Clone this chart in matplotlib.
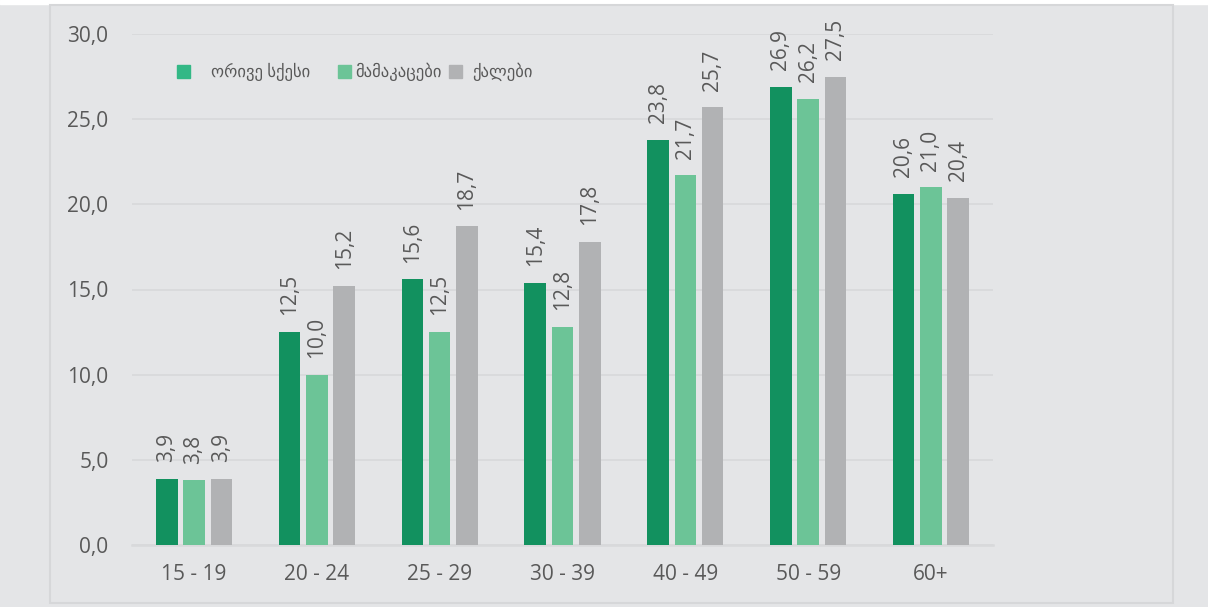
import numpy as np
import matplotlib.pyplot as plt
from matplotlib.patches import Rectangle

# Data
categories = ['15 - 19', '20 - 24', '25 - 29', '30 - 39', '40 - 49', '50 - 59', '60+']
both_sexes = [3.9, 12.5, 15.6, 15.4, 23.8, 26.9, 20.6]
men = [3.8, 10.0, 12.5, 12.8, 21.7, 26.2, 21.0]
women = [3.9, 15.2, 18.7, 17.8, 25.7, 27.5, 20.4]
series_names = ['ორივე სქესი', 'მამაკაცები', 'ქალები']

bg = '#e4e5e7'
colors = ['#12915f', '#6cc497', '#b1b2b4']
legend_colors = ['#33b886', '#6cc497', '#b1b2b4']
txt = '#595959'
fam = ['Open Sans', 'DejaVu Sans']

W, H = 1208, 607
fig = plt.figure(figsize=(W / 100, H / 100), dpi=100, facecolor=bg)
# axes area in pixels: x 132..993, y 34(=30) .. 545(=0)
ax = fig.add_axes([132 / W, 1 - 545 / H, (993 - 132) / W, (545 - 34) / H])
ax.set_facecolor(bg)

x = np.arange(len(categories))
bw = 0.175
off = 0.222
for i, (vals, c) in enumerate(zip([both_sexes, men, women], colors)):
    pos = x + (i - 1) * off
    ax.bar(pos, vals, width=bw, color=c, zorder=3)
    for p, v in zip(pos, vals):
        ax.annotate(f'{v:.1f}'.replace('.', ','), (p, v), xytext=(0, 12),
                    textcoords='offset points', rotation=90,
                    ha='center', va='bottom', fontsize=15, color=txt, family=fam)

ax.set_ylim(0, 30)
ax.set_xlim(-0.505, 6.505)
ax.set_yticks(np.arange(0, 31, 5))
ax.set_yticklabels([f'{v:.1f}'.replace('.', ',') for v in np.arange(0, 31, 5)])
ax.set_xticks(x)
ax.set_xticklabels(categories)
ax.tick_params(axis='both', length=0, labelsize=15, labelcolor=txt)
ax.tick_params(axis='y', pad=17)
ax.tick_params(axis='x', pad=14)
for lab in ax.get_xticklabels() + ax.get_yticklabels():
    lab.set_family(fam)
ax.grid(axis='y', color='#d8d9db', linewidth=1.3, zorder=0)
for s in ['top', 'right', 'left']:
    ax.spines[s].set_visible(False)
ax.spines['bottom'].set_color('#d8d9db')
ax.spines['bottom'].set_linewidth(1.8)

# outer border
fig.patches.append(Rectangle((50 / W, 1 - 603 / H), (1173 - 50) / W, (603 - 5) / H,
                             transform=fig.transFigure, fill=False,
                             edgecolor='#d6d7d9', linewidth=1.5))
fig.patches.append(Rectangle((0, 1 - 4 / H), 1, 4 / H, transform=fig.transFigure,
                             color='white', zorder=0))

# legend
leg_sq = [177, 338, 449]
leg_tx = [211, 355, 472]
ly = 72
for sx, tx, name, c in zip(leg_sq, leg_tx, series_names, legend_colors):
    fig.patches.append(Rectangle((sx / W, 1 - (ly + 6) / H), 13 / W, 13 / H,
                                 transform=fig.transFigure, color=c))
    fig.text(tx / W, 1 - ly / H, name, ha='left', va='center', fontsize=12,
             color=txt, family=fam)

fig.savefig('out.png', dpi=100, facecolor=bg)
